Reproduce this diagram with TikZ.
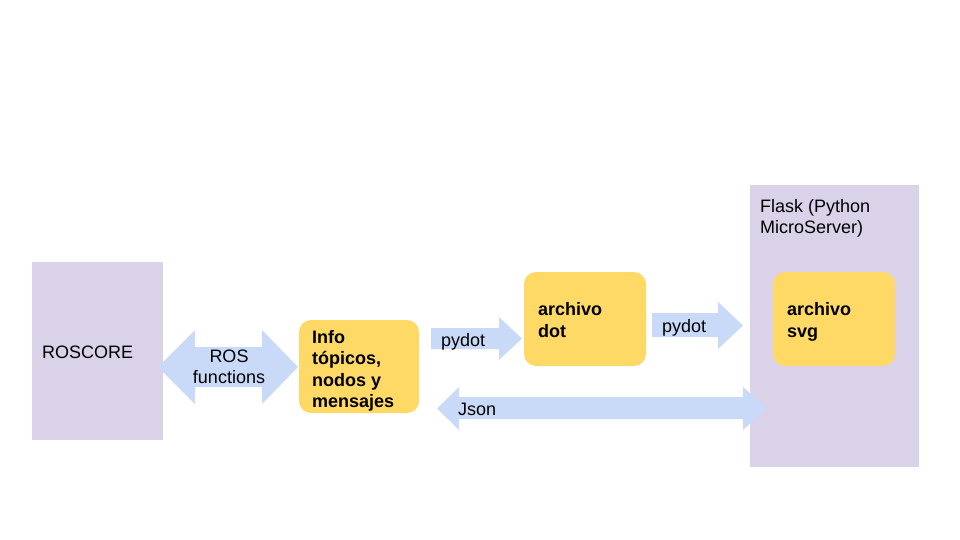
\documentclass[tikz,border=0pt]{standalone}
\usepackage{fontspec}
\setmainfont{Liberation Sans}
\definecolor{lav}{HTML}{D9D2E9}
\definecolor{ylw}{HTML}{FFD966}
\definecolor{arr}{HTML}{C9DAF8}
\tikzset{
  panel/.style={fill=lav, draw=none},
  ybox/.style={fill=ylw, draw=none, rounded corners=12pt},
  blockarrow/.style={fill=arr, draw=none},
  lbl/.style={inner sep=0pt, font=\fontsize{18}{21.5}\selectfont, align=left},
  blbl/.style={lbl, font=\fontsize{18}{21.5}\selectfont\bfseries},
}
\begin{document}
\begin{tikzpicture}[x=1pt,y=-1pt]
\useasboundingbox (0,0) rectangle (960,540);
% panels
\path[panel] (32,262) rectangle (163,440);
\path[panel] (750,185) rectangle (919,467);
\node[lbl, anchor=base west] (roscore) at (42,358) {ROSCORE};
\node[lbl, anchor=base west] (flask) at (760,233.5) {Flask (Python\\MicroServer)};
% yellow boxes
\path[ybox] (299,320) rectangle (419,413);
\path[ybox] (524,272) rectangle (646,366);
\path[ybox] (773,272) rectangle (895,366);
\node[blbl, anchor=base west] (info) at (312,407.5) {Info\\tópicos,\\nodos y\\mensajes};
\node[blbl, anchor=base west] (dot) at (538,337) {archivo\\dot};
\node[blbl, anchor=base west] (svg) at (787,337) {archivo\\svg};
% ROS functions double arrow
\fill[blockarrow] (158,367) -- (195,330) -- (195,347) -- (262,347) -- (262,330) -- (298,367)
  -- (262,404) -- (262,387) -- (195,387) -- (195,404) -- cycle;
\node[lbl, align=center] (rosf) at (229,367) {ROS\\functions};
% pydot 1
\fill[blockarrow] (431,328) -- (499,328) -- (499,317) -- (522,338.5) -- (499,360) -- (499,349) -- (431,349) -- cycle;
\node[lbl, anchor=base west] (pd1) at (441,346) {pydot};
% pydot 2
\fill[blockarrow] (652,313) -- (718,313) -- (718,302) -- (743,325.5) -- (718,349) -- (718,337) -- (652,337) -- cycle;
\node[lbl, anchor=base west] (pd2) at (662,332) {pydot};
% Json double arrow
\fill[blockarrow] (437,408.5) -- (459,387) -- (459,397) -- (743,397) -- (743,387) -- (767,408.5)
  -- (743,430) -- (743,419) -- (459,419) -- (459,430) -- cycle;
\node[lbl, anchor=base west] (json) at (458,415) {Json};
\end{tikzpicture}
\end{document}
